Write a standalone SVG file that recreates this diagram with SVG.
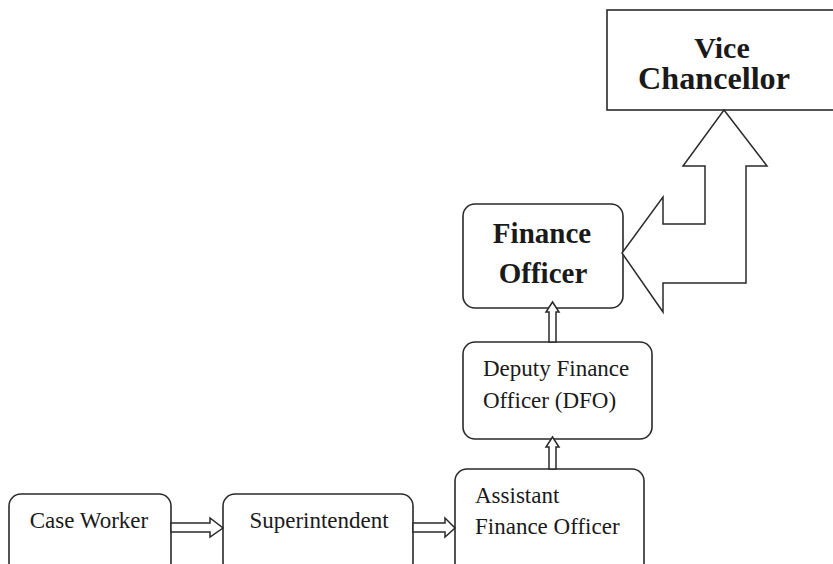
<svg xmlns="http://www.w3.org/2000/svg" width="833" height="564" viewBox="0 0 833 564">
<style>
.box{fill:#fff;stroke:#2a2a2a;stroke-width:1.6}
.con{fill:#fff;stroke:#2a2a2a;stroke-width:1.5;stroke-linejoin:miter}
.b{font-family:"Liberation Serif","Times New Roman",serif;font-weight:bold;font-size:29px;fill:#1a1a1a;text-anchor:middle}
.r{font-family:"Liberation Serif","Times New Roman",serif;font-size:23px;fill:#1a1a1a}
.m{text-anchor:middle}
</style>
<rect width="833" height="564" fill="#fff"/>
<g id="vice-chancellor">
<rect class="box" x="607" y="10" width="240" height="100"/>
<text class="b" x="722" y="58" style="font-size:30px">Vice</text>
<text class="b" x="714" y="89" style="font-size:31px" textLength="152" lengthAdjust="spacingAndGlyphs">Chancellor</text>
</g>
<g id="finance-officer">
<rect class="box" x="463" y="204" width="160" height="104" rx="12"/>
<text class="b" x="542" y="243">Finance</text>
<text class="b" x="543" y="283">Officer</text>
</g>
<g id="deputy-finance-officer">
<rect class="box" x="463" y="342" width="189" height="97" rx="12"/>
<text class="r" x="483" y="376">Deputy Finance</text>
<text class="r" x="483" y="408">Officer (DFO)</text>
</g>
<g id="assistant-finance-officer">
<rect class="box" x="455" y="469" width="189" height="110" rx="12"/>
<text class="r" x="475" y="503">Assistant</text>
<text class="r" x="475" y="534">Finance Officer</text>
</g>
<g id="case-worker">
<rect class="box" x="9" y="494" width="162" height="80" rx="12"/>
<text class="r m" x="89" y="528">Case Worker</text>
</g>
<g id="superintendent">
<rect class="box" x="223" y="494" width="190" height="80" rx="12"/>
<text class="r m" x="319" y="528">Superintendent</text>
</g>
<g id="connectors">
<polygon class="con" points="724,110 767,166 746,166 746,283 663,283 663,312 622,253 663,197 663,224 705,224 705,166 683,166"/>
<polygon class="con" points="171,523 210,523 210,518 223,528 210,537 210,532 171,532"/>
<polygon class="con" points="413,523 445,523 445,518 455,528 445,537 445,532 413,532"/>
<polygon class="con" points="549,342 549,312 546,312 552.5,302 559,312 556,312 556,342"/>
<polygon class="con" points="549,469 549,447 546,447 552.5,437 559,447 556,447 556,469"/>
</g>
</svg>
